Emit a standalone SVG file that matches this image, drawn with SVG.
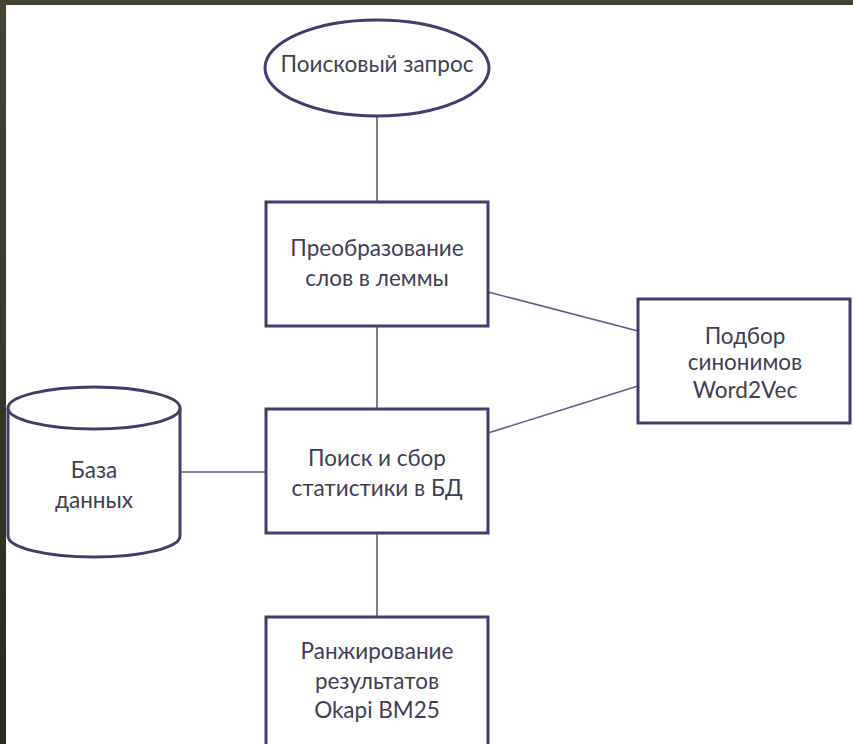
<svg xmlns="http://www.w3.org/2000/svg" width="853" height="744" viewBox="0 0 853 744">
<defs>
<linearGradient id="lbar" x1="0" y1="0" x2="0" y2="1">
<stop offset="0" stop-color="#45432F"/>
<stop offset="1" stop-color="#2C2A1C"/>
</linearGradient>
</defs>
<style>
.shape{fill:#fff;stroke:#3F3D6A;stroke-width:3}
.conn{stroke:#5E5B8C;stroke-width:1.6;fill:none}
.t{font-family:Lato,"Open Sans","Liberation Sans",sans-serif;font-size:22.5px;fill:#403E56;text-anchor:middle}
</style>
<rect x="0" y="0" width="853" height="744" fill="#fff"/>
<rect x="0" y="0" width="853" height="5" fill="#45432F"/>
<rect x="0" y="0" width="6" height="744" fill="url(#lbar)"/>
<g id="connectors">
<line class="conn" x1="377" y1="117" x2="377" y2="202"/>
<line class="conn" x1="377" y1="326" x2="377" y2="409"/>
<line class="conn" x1="377" y1="533" x2="377" y2="617"/>
<line class="conn" x1="180" y1="472" x2="266" y2="472"/>
<line class="conn" x1="488" y1="292" x2="638" y2="331"/>
<line class="conn" x1="488" y1="433" x2="638" y2="386"/>
</g>
<g id="query">
<ellipse class="shape" cx="377" cy="68" rx="112" ry="48"/>
<text class="t" x="377" y="72">Поисковый запрос</text>
</g>
<g id="lemma">
<rect class="shape" x="266" y="202" width="222" height="124"/>
<text class="t" x="377" y="256">Преобразование</text>
<text class="t" x="377" y="286">слов в леммы</text>
</g>
<g id="synonyms">
<rect class="shape" x="638" y="299" width="212" height="124"/>
<text class="t" x="745" y="344">Подбор</text>
<text class="t" x="745" y="370">синонимов</text>
<text class="t" x="745" y="398">Word2Vec</text>
</g>
<g id="search">
<rect class="shape" x="266" y="409" width="222" height="124"/>
<text class="t" x="377" y="466">Поиск и сбор</text>
<text class="t" x="377" y="496">статистики в БД</text>
</g>
<g id="db">
<path class="shape" d="M8,408 A86,21 0 0 1 180,408 L180,536 A86,21 0 0 1 8,536 Z"/>
<path class="shape" fill="none" d="M8,408 A86,21 0 0 0 180,408"/>
<text class="t" x="94" y="478">База</text>
<text class="t" x="94" y="508">данных</text>
</g>
<g id="ranking">
<rect class="shape" x="266" y="617" width="222" height="140"/>
<text class="t" x="377" y="659">Ранжирование</text>
<text class="t" x="377" y="689">результатов</text>
<text class="t" x="377" y="718">Okapi BM25</text>
</g>
</svg>
